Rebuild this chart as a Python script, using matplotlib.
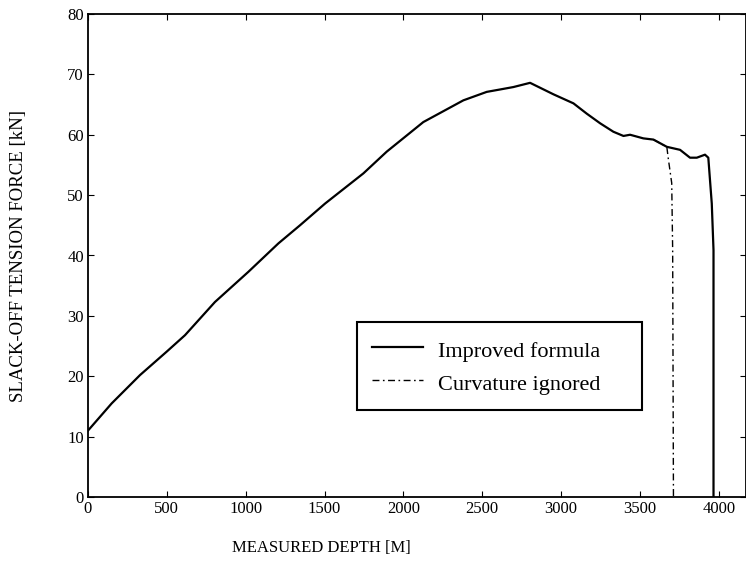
# slack-off tension force vs measured depth, improved formula vs curvature ignored

import matplotlib
matplotlib.use("Agg")
import matplotlib.pyplot as plt

plt.rcParams["font.family"] = ["Liberation Serif", "DejaVu Serif"]

depth_improved = [0, 150, 330, 500, 615, 805, 1017, 1207, 1344, 1503, 1746, 1894,
                  2126, 2380, 2528, 2613, 2697, 2803, 2951, 3078, 3162, 3247, 3331,
                  3395, 3437, 3521, 3585, 3670, 3754, 3817, 3860, 3912, 3933, 3955,
                  3966, 3966]
force_improved = [11.0, 15.5, 20.2, 24.1, 26.8, 32.3, 37.3, 42.0, 45.0, 48.6, 53.6,
                  57.2, 62.1, 65.7, 67.1, 67.5, 67.9, 68.6, 66.7, 65.2, 63.5, 61.9,
                  60.5, 59.8, 60.0, 59.4, 59.2, 58.0, 57.5, 56.2, 56.2, 56.7, 56.2,
                  48.6, 40.9, 0.0]

depth_ignored = [3585, 3670, 3678, 3701, 3707, 3712]
force_ignored = [59.2, 58.0, 56.3, 52.0, 40.9, 0.0]

fig = plt.figure(figsize=(7.46, 5.74), dpi=100)
ax = fig.add_axes([88 / 746, 1 - 497 / 574, 658 / 746, 483 / 574])

ax.plot(depth_improved, force_improved, color="black", lw=1.6, label="Improved formula")
ax.plot(depth_ignored, force_ignored, color="black", lw=1.0,
        linestyle=(0, (5, 2.5, 1.2, 2.5)), label="Curvature ignored")

ax.set_xlim(0, 4172)
ax.set_ylim(0, 80)
ax.set_xticks(range(0, 4001, 500))
ax.set_yticks(range(0, 81, 10))
ax.tick_params(direction="in", top=True, right=True, length=4, labelsize=12, pad=3)
for s in ax.spines.values():
    s.set_linewidth(1.3)

ax.set_xlabel("MEASURED DEPTH [M]", fontsize=12)
ax.xaxis.set_label_coords(0.354, -0.088)
ax.set_ylabel("SLACK-OFF TENSION FORCE [kN]", fontsize=13.5)
ax.yaxis.set_label_coords(-0.092, 0.5)

leg = ax.legend(loc="lower left", bbox_to_anchor=(0.409, 0.18, 0.433, 0.182),
                mode="expand", borderaxespad=0, fancybox=False, framealpha=1,
                edgecolor="black", fontsize=16, handlelength=2.3, handletextpad=0.7,
                handleheight=1.4, borderpad=0.65, labelspacing=0.35)
leg.get_frame().set_linewidth(1.5)

fig.savefig("out.png", dpi=100)
